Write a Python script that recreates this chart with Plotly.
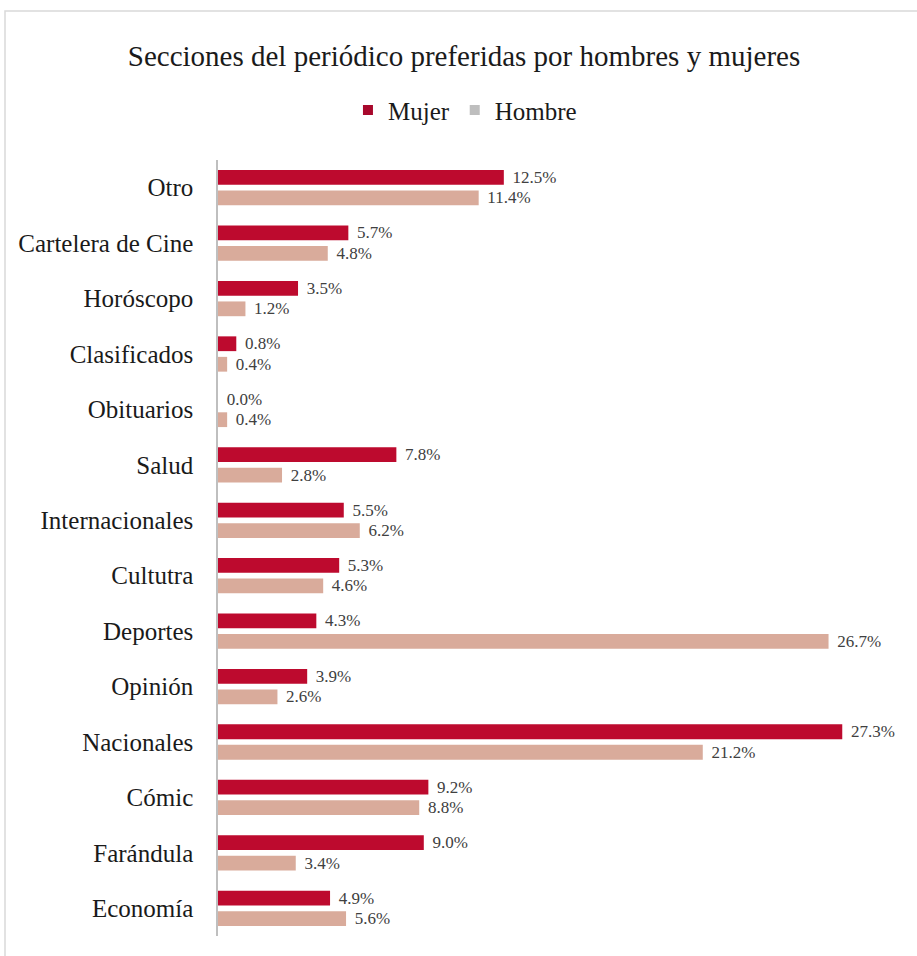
import plotly.graph_objects as go

# Sections of the newspaper, top to bottom
secciones = ["Otro", "Cartelera de Cine", "Horóscopo", "Clasificados", "Obituarios",
             "Salud", "Internacionales", "Cultutra", "Deportes", "Opinión",
             "Nacionales", "Cómic", "Farándula", "Economía"]
mujer = [12.5, 5.7, 3.5, 0.8, 0.0, 7.8, 5.5, 5.3, 4.3, 3.9, 27.3, 9.2, 9.0, 4.9]
hombre = [11.4, 4.8, 1.2, 0.4, 0.4, 2.8, 6.2, 4.6, 26.7, 2.6, 21.2, 8.8, 3.4, 5.6]

COLOR_MUJER = "#BD0A2E"
COLOR_HOMBRE = "#D9AB9B"
FONT = "Liberation Serif"

fig = go.Figure()

for nombre, valores, color in [("Mujer", mujer, COLOR_MUJER), ("Hombre", hombre, COLOR_HOMBRE)]:
    fig.add_trace(go.Bar(
        y=secciones, x=valores, orientation="h", name=nombre,
        marker=dict(color=color, line=dict(width=0)),
        texttemplate="\u2004%{x:.1f}%", textposition="outside", constraintext="none",
        textfont=dict(family=FONT, size=17, color="#404040"),
        cliponaxis=False, showlegend=False,
    ))

# Legend entries drawn as square markers
fig.add_trace(go.Scatter(x=[None], y=[None], mode="markers", name="Mujer",
                         marker=dict(symbol="square", size=10, color="#A8082C")))
fig.add_trace(go.Scatter(x=[None], y=[None], mode="markers", name="Hombre",
                         marker=dict(symbol="square", size=10, color="#BEBEBE")))

fig.update_layout(
    width=917, height=956,
    margin=dict(l=218, r=13, t=160, b=20),
    paper_bgcolor="white", plot_bgcolor="white",
    barmode="group", bargap=0.26, bargroupgap=0.28,
    font=dict(family=FONT, color="#1a1a1a"),
    title=dict(text="Secciones del periódico preferidas por hombres y mujeres",
               x=0.506, xanchor="center", y=0.942, yanchor="middle",
               font=dict(family=FONT, size=29, color="#1a1a1a")),
    legend=dict(orientation="h", x=0.36, xanchor="center", y=1.064, yanchor="middle",
                font=dict(family=FONT, size=25, color="#1a1a1a"),
                itemwidth=30, tracegroupgap=0, bgcolor="rgba(0,0,0,0)"),
    xaxis=dict(range=[0, 30], visible=False, showgrid=False, zeroline=False),
    yaxis=dict(autorange="reversed", showgrid=False, zeroline=False,
               showline=True, linecolor="#BFBFBF", linewidth=1.5,
               ticks="", ticklabelstandoff=18,
               tickfont=dict(family=FONT, size=25, color="#1a1a1a")),
    shapes=[dict(type="rect", xref="paper", yref="paper",
                 x0=-0.3105, x1=1.2, y0=-0.2, y1=1.192,
                 line=dict(color="#D9D9D9", width=1.5), fillcolor="rgba(0,0,0,0)",
                 layer="below")],
)

fig.write_html("out.html")
